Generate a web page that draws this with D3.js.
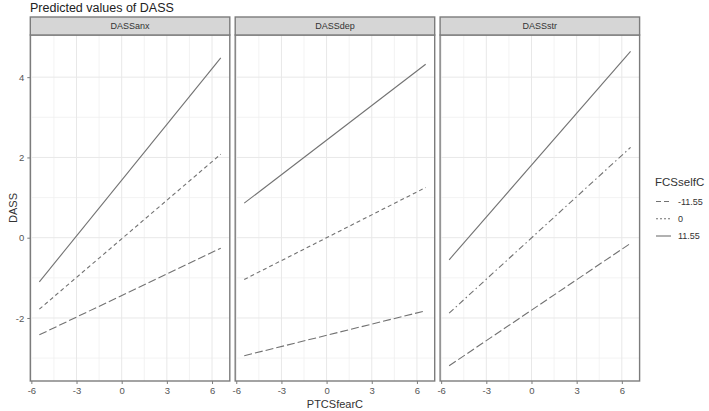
<!DOCTYPE html>
<html>
<head>
<meta charset="utf-8">
<script src="https://cdn.jsdelivr.net/npm/d3@7"></script>
<style>
  html, body { margin: 0; padding: 0; background: #fff; }
  svg { display: block; font-family: "Liberation Sans", Arial, sans-serif; }
</style>
</head>
<body>
<svg id="chart" width="709" height="411"></svg>
<script>
// ---- data ----
const facets = ["DASSanx", "DASSdep", "DASSstr"];
const levels = ["-11.55", "0", "11.55"];          // FCSselfC
const xRange = [-5.47, 6.58];                      // PTCSfearC range of predictions
const xTicks = [-6, -3, 0, 3, 6];
const yTicks = [-2, 0, 2, 4];
// predicted DASS at start / end of the x range, per FCSselfC level
const anxStart = [-2.42, -1.78, -1.10];
const anxEnd   = [-0.26,  2.08,  4.48];
const depStart = [-2.94, -1.04,  0.86];
const depEnd   = [-1.82,  1.25,  4.32];
const strStart = [-3.19, -1.88, -0.55];
const strEnd   = [-0.14,  2.25,  4.64];

const starts = [anxStart, depStart, strStart];
const ends = [anxEnd, depEnd, strEnd];

// ---- layout ----
const svg = d3.select("#chart");
const panelW = 199.5, panelTop = 35, panelBottom = 381, stripTop = 17;
const panelLefts = [30.3, 235.2, 440.1];
const lineColor = "#727272";
const borderColor = "#7c7c7c";
const dashes = {
  "-11.55": "8,3",
  "0": "4,3",
  "11.55": null
};
const dashPanel3Mid = "6,3,1.5,3";
const fmt = d => String(d);   // plain hyphen minus like the reference

svg.append("rect").attr("width", 709).attr("height", 411).attr("fill", "#fff");

const y = d3.scaleLinear().domain([-3.57, 5.05]).range([panelBottom, panelTop]);

facets.forEach((f, i) => {
  const x0 = panelLefts[i];
  const x = d3.scaleLinear().domain([-6.07, 7.18]).range([x0, x0 + panelW]);
  const g = svg.append("g");

  // grid minor
  const xMinor = [-4.5, -1.5, 1.5, 4.5];
  const yMinor = [-3, -1, 1, 3];
  g.selectAll(".xm").data(xMinor).enter().append("line")
    .attr("x1", d => x(d)).attr("x2", d => x(d))
    .attr("y1", panelTop).attr("y2", panelBottom)
    .attr("stroke", "#f0f0f0").attr("stroke-width", 0.8);
  g.selectAll(".ym").data(yMinor).enter().append("line")
    .attr("y1", d => y(d)).attr("y2", d => y(d))
    .attr("x1", x0).attr("x2", x0 + panelW)
    .attr("stroke", "#f0f0f0").attr("stroke-width", 0.8);
  // grid major
  g.selectAll(".xg").data(xTicks).enter().append("line")
    .attr("x1", d => x(d)).attr("x2", d => x(d))
    .attr("y1", panelTop).attr("y2", panelBottom)
    .attr("stroke", "#e8e8e8").attr("stroke-width", 1);
  g.selectAll(".yg").data(yTicks).enter().append("line")
    .attr("y1", d => y(d)).attr("y2", d => y(d))
    .attr("x1", x0).attr("x2", x0 + panelW)
    .attr("stroke", "#e8e8e8").attr("stroke-width", 1);

  // lines
  levels.forEach((lv, k) => {
    const pts = [[xRange[0], starts[i][k]], [xRange[1], ends[i][k]]];
    const line = d3.line().x(d => x(d[0])).y(d => y(d[1]));
    let dash = dashes[lv];
    if (i === 2 && lv === "0") dash = dashPanel3Mid;
    g.append("path").attr("d", line(pts))
      .attr("fill", "none").attr("stroke", lineColor).attr("stroke-width", 1.1)
      .attr("stroke-dasharray", dash);
  });

  // panel border
  g.append("rect").attr("x", x0).attr("y", panelTop)
    .attr("width", panelW).attr("height", panelBottom - panelTop)
    .attr("fill", "none").attr("stroke", borderColor).attr("stroke-width", 1.4);

  // strip
  g.append("rect").attr("x", x0).attr("y", stripTop)
    .attr("width", panelW).attr("height", panelTop - stripTop)
    .attr("fill", "#d6d6d6").attr("stroke", borderColor).attr("stroke-width", 1.4);
  g.append("text").attr("x", x0 + panelW / 2).attr("y", (stripTop + panelTop) / 2 + 3.2)
    .attr("text-anchor", "middle").attr("font-size", 9).attr("fill", "#333")
    .text(f);

  // x axis
  const xa = svg.append("g").attr("transform", `translate(0,${panelBottom})`)
    .call(d3.axisBottom(x).tickValues(xTicks).tickFormat(fmt).tickSize(3).tickPadding(3));
  xa.select(".domain").remove();
  xa.selectAll("line").attr("stroke", borderColor);
  xa.selectAll("text").attr("font-size", 9.5).attr("fill", "#555")
    .attr("font-family", "Liberation Sans, Arial, sans-serif");

  if (i === 0) {
    const ya = svg.append("g").attr("transform", `translate(${x0},0)`)
      .call(d3.axisLeft(y).tickValues(yTicks).tickFormat(fmt).tickSize(3).tickPadding(3));
    ya.select(".domain").remove();
    ya.selectAll("line").attr("stroke", borderColor);
    ya.selectAll("text").attr("font-size", 9.5).attr("fill", "#555")
      .attr("font-family", "Liberation Sans, Arial, sans-serif");
  }
});

// titles
svg.append("text").attr("x", 30).attr("y", 11.5)
  .attr("font-size", 12.5).attr("fill", "#222").text("Predicted values of DASS");
svg.append("text").attr("x", (panelLefts[1] + panelLefts[1] + panelW) / 2).attr("y", 408)
  .attr("text-anchor", "middle").attr("font-size", 11).attr("fill", "#333").text("PTCSfearC");
svg.append("text")
  .attr("transform", `translate(17,${(panelTop + panelBottom) / 2}) rotate(-90)`)
  .attr("text-anchor", "middle").attr("font-size", 11).attr("fill", "#333").text("DASS");

// legend
const lg = svg.append("g");
lg.append("text").attr("x", 655).attr("y", 186).attr("font-size", 11.5)
  .attr("fill", "#333").text("FCSselfC");
const rowY = [201.5, 218.7, 236];
levels.forEach((lv, k) => {
  lg.append("line").attr("x1", 656).attr("x2", 671)
    .attr("y1", rowY[k]).attr("y2", rowY[k])
    .attr("stroke", lineColor).attr("stroke-width", 1.1)
    .attr("stroke-dasharray", lv === "-11.55" ? "5,3" : (lv === "0" ? "2,2" : null));
  lg.append("text").attr("x", 678).attr("y", rowY[k] + 3.3)
    .attr("font-size", 9).attr("fill", "#333").text(lv);
});
</script>
</body>
</html>
